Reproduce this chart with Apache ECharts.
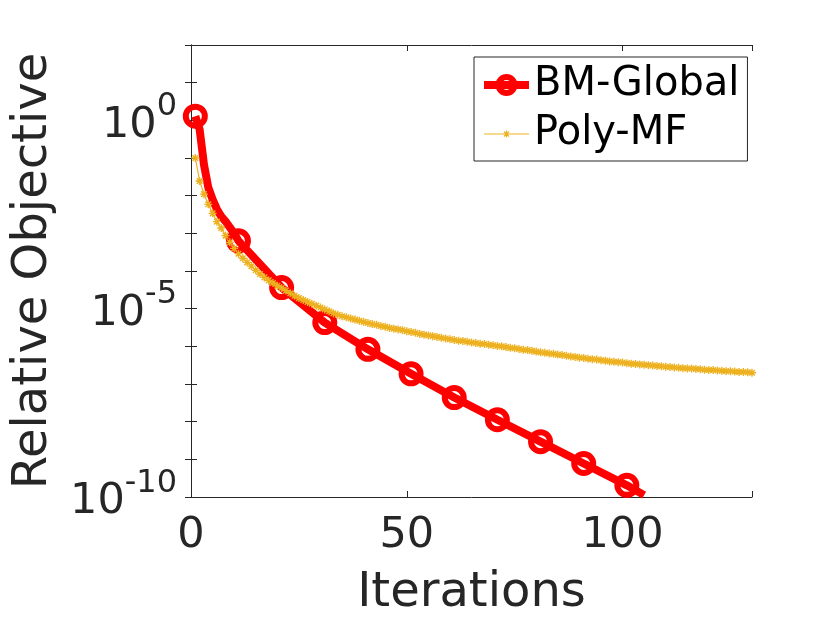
<!DOCTYPE html>
<html>
<head>
<meta charset="utf-8">
<script src="https://cdn.jsdelivr.net/npm/echarts@6/dist/echarts.min.js"></script>
<style>
  html, body { margin: 0; padding: 0; background: #fff; }
  #chart { width: 830px; height: 623px; }
</style>
</head>
<body>
<div id="chart"></div>
<script>
var bmIter = [1, 2, 3, 4, 5, 6, 7, 8, 9, 10, 11, 21, 31, 41, 51, 61, 71, 81, 91, 101, 105];
var bmExp = [0.11, -0.24, -1.17, -1.78, -2.10, -2.36, -2.55, -2.68, -2.84, -3.00, -3.20,
    -4.44, -5.37, -6.08, -6.73, -7.36, -7.95, -8.53, -9.11, -9.69, -9.95];

// Poly-MF: one point per iteration (1..130), log10 of the objective
var polyExp = [
    -1.00, -1.61, -1.96, -2.23, -2.47, -2.69, -2.86, -3.06, -3.24, -3.40,
    -3.54, -3.66, -3.77, -3.87, -3.98, -4.08, -4.17, -4.25, -4.32, -4.39,
    -4.45, -4.52, -4.59, -4.66, -4.72, -4.77, -4.82, -4.87, -4.92, -4.97,
    -5.02, -5.07, -5.12, -5.16, -5.20, -5.23, -5.26, -5.29, -5.32, -5.35,
    -5.38, -5.41, -5.43, -5.46, -5.48, -5.51, -5.53, -5.55, -5.57, -5.60,
    -5.62, -5.64, -5.67, -5.69, -5.71, -5.73, -5.75, -5.77, -5.79, -5.81,
    -5.83, -5.85, -5.86, -5.88, -5.90, -5.91, -5.93, -5.94, -5.96, -5.97,
    -5.99, -6.00, -6.02, -6.04, -6.05, -6.07, -6.09, -6.10, -6.12, -6.14,
    -6.16, -6.17, -6.19, -6.20, -6.22, -6.23, -6.25, -6.27, -6.28, -6.30,
    -6.31, -6.33, -6.34, -6.35, -6.37, -6.38, -6.40, -6.41, -6.42, -6.43,
    -6.45, -6.46, -6.47, -6.48, -6.49, -6.50, -6.51, -6.52, -6.53, -6.54,
    -6.55, -6.56, -6.57, -6.58, -6.59, -6.59, -6.60, -6.61, -6.62, -6.63,
    -6.63, -6.64, -6.65, -6.66, -6.66, -6.67, -6.68, -6.68, -6.69, -6.70
];

var xTicks = [0, 50, 100];
var yLabelExp = [0, -5, -10];
var seriesNames = ['BM-Global', 'Poly-MF'];

var ink = '#262626';
var red = '#ff0000';
var gold = '#EDB120';
var font = 'DejaVu Sans';
var none = 'rgba(255,255,255,0)';
var asterisk = 'path://M0,5L10,5M5,0L5,10M1.5,1.5L8.5,8.5M8.5,1.5L1.5,8.5';
// legend icon for Poly-MF: thin line with a small asterisk in the middle
var polyIcon = 'path://M0,3.5L45,3.5M19,3.5L26,3.5M22.5,0L22.5,7M20,1L25,6M25,1L20,6';

var bmData = bmIter.map(function (it, i) {
    return {
        value: [it, Math.pow(10, bmExp[i])],
        symbol: (it - 1) % 10 === 0 ? 'circle' : 'none'
    };
});
var polyData = polyExp.map(function (e, i) {
    return [i + 1, Math.pow(10, e)];
});

function yLabel(v) {
    var e = Math.round(Math.log10(v));
    if (yLabelExp.indexOf(e) < 0) return '';
    return '{b|10}{s|' + e + '}';
}

var chart = echarts.init(document.getElementById('chart'));
chart.setOption({
    animation: false,
    backgroundColor: '#fff',
    textStyle: { fontFamily: font },
    grid: { left: 191, right: 78, top: 45, bottom: 125, containLabel: false },
    legend: {
        orient: 'vertical',
        left: 474,
        top: 57,
        padding: [6, 8, 5, 6],
        itemGap: 5,
        itemWidth: 45,
        itemHeight: 20,
        itemTextGap: 7,
        borderColor: ink,
        borderWidth: 1,
        backgroundColor: '#fff',
        textStyle: { fontSize: 40, lineHeight: 44, color: '#000', fontFamily: font },
        data: [{
            name: seriesNames[0],
            lineStyle: { color: red, width: 8 },
            itemStyle: { color: none, borderColor: red, borderWidth: 6 }
        }, {
            name: seriesNames[1],
            icon: polyIcon,
            itemStyle: { color: none, borderColor: gold, borderWidth: 1.2 }
        }]
    },
    xAxis: [{
        type: 'value',
        min: 0,
        max: 130,
        interval: 50,
        name: 'Iterations',
        nameLocation: 'middle',
        nameGap: 73,
        nameTextStyle: { fontSize: 48, color: ink, fontFamily: font },
        axisLine: { lineStyle: { color: ink, width: 1 } },
        axisTick: { inside: true, length: 6, lineStyle: { color: ink } },
        axisLabel: {
            fontSize: 43, lineHeight: 43, color: ink, margin: 17, fontFamily: font,
            formatter: function (v) { return xTicks.indexOf(v) >= 0 ? String(v) : ''; }
        },
        splitLine: { show: false }
    }, {
        type: 'value',
        position: 'top',
        min: 0,
        max: 130,
        interval: 50,
        axisLine: { show: true, lineStyle: { color: ink, width: 1 } },
        axisTick: { show: true, inside: true, length: 6, lineStyle: { color: ink } },
        axisLabel: { show: false },
        splitLine: { show: false }
    }],
    yAxis: [{
        type: 'log',
        logBase: 10,
        min: 1e-10,
        max: 1e2,
        interval: 1,
        name: 'Relative Objective',
        nameLocation: 'middle',
        nameRotate: 90,
        nameGap: 133,
        nameTextStyle: { fontSize: 48, color: ink, fontFamily: font },
        axisLine: { show: true, lineStyle: { color: ink, width: 1 } },
        axisTick: { show: true, inside: true, length: 6, lineStyle: { color: ink } },
        axisLabel: {
            margin: 14,
            color: ink,
            formatter: yLabel,
            rich: {
                b: { fontSize: 43, lineHeight: 43, padding: [10, 0, 0, 0], color: ink, fontFamily: font },
                s: { fontSize: 32, lineHeight: 32, padding: [0, 0, 27, 0], color: ink, fontFamily: font }
            }
        },
        splitLine: { show: false },
        minorTick: { show: false }
    }, {
        type: 'log',
        logBase: 10,
        position: 'right',
        min: 1e-10,
        max: 1e2,
        interval: 1,
        axisLine: { show: true, lineStyle: { color: ink, width: 1 } },
        axisTick: { show: true, inside: true, length: 6, lineStyle: { color: ink } },
        axisLabel: { show: false },
        splitLine: { show: false }
    }],
    series: [{
        name: seriesNames[0],
        type: 'line',
        data: bmData,
        clip: true,
        symbol: 'circle',
        symbolSize: 19,
        showAllSymbol: true,
        lineStyle: { color: red, width: 8 },
        itemStyle: { color: none, borderColor: red, borderWidth: 6 }
    }, {
        name: seriesNames[1],
        type: 'line',
        data: polyData,
        clip: true,
        symbol: asterisk,
        symbolSize: 8,
        showAllSymbol: true,
        lineStyle: { color: gold, width: 1.2 },
        itemStyle: { color: none, borderColor: gold, borderWidth: 1.4 }
    }]
});
</script>
</body>
</html>
